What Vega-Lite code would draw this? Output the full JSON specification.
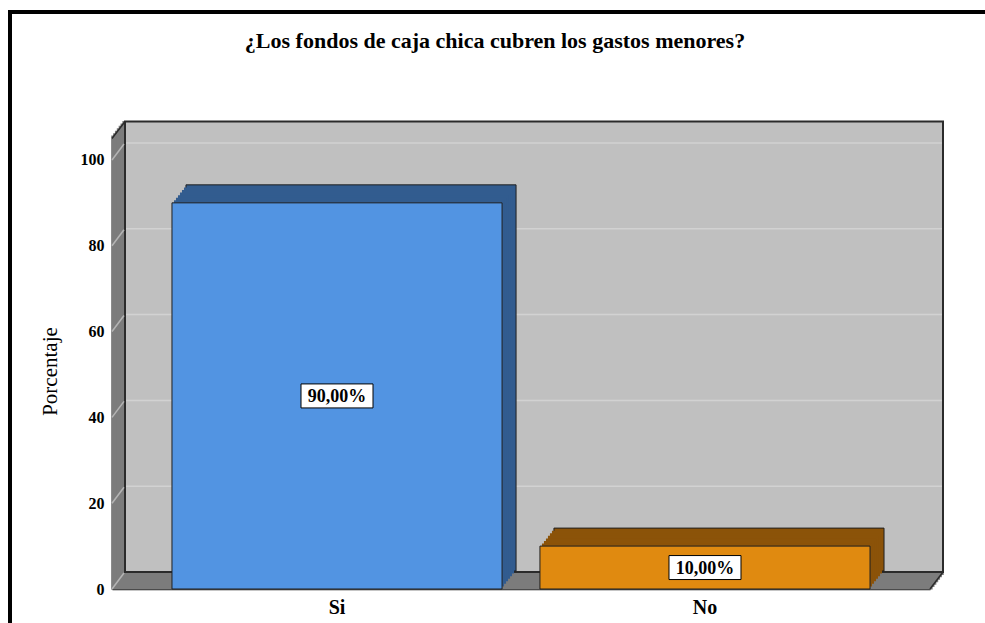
{
"$schema": "https://vega.github.io/schema/vega-lite/v6.json",
"width": 1000,
"height": 700,
"autosize": {"type": "none"},
"padding": {"left": 10, "top": 12, "right": 0, "bottom": 0},
"background": "white",
"title": {"text": "¿Los fondos de caja chica cubren los gastos menores?", "font": "Liberation Serif", "fontSize": 22, "fontWeight": "bold", "color": "black", "anchor": "middle", "frame": "group", "baseline": "alphabetic", "offset": 0, "dy": 58, "dx": -15},
"data": {"values": [{}]},
"datasets": {
  "main": [{"cat": "Si", "pct": 90, "label": "90,00%"}, {"cat": "No", "pct": 10, "label": "10,00%"}],
  "grid": [{"v": 0}, {"v": 20}, {"v": 40}, {"v": 60}, {"v": 80}, {"v": 100}]
},
"config": {
  "view": {"stroke": "black", "strokeWidth": 4, "fill": "white"},
  "axis": {"zindex": 1},
  "axisY": {"offset": -102, "domain": true, "domainColor": "#1a1a1a", "domainWidth": 1.5, "ticks": false, "grid": false, "labelFont": "Liberation Serif", "labelFontSize": 16, "labelFontWeight": "bold", "labelColor": "black", "labelPadding": 8, "titleFont": "Liberation Serif", "titleFontSize": 21, "titleFontWeight": "normal", "titleColor": "black", "titlePadding": 20, "titleY": 359},
  "axisX": {"offset": -123, "domain": true, "domainColor": "#1a1a1a", "domainWidth": 1.5, "ticks": false, "grid": false, "labelFont": "Liberation Serif", "labelFontSize": 20, "labelFontWeight": "bold", "labelColor": "black", "labelPadding": 8, "labelAngle": 0}
},
"resolve": {"scale": {"x": "independent"}},
"layer": [
  {"mark": {"type": "rect", "fill": "transparent", "stroke": "#7c7c7c", "strokeWidth": 3.4, "xOffset": 0.93, "x2Offset": 0.93, "yOffset": -1.21, "y2Offset": -1.21},
   "encoding": {"x": {"datum": 0, "type": "quantitative", "scale": {"domain": [0, 1], "range": [102, 920]}, "axis": null}, "x2": {"datum": 1}, "y": {"datum": 0, "type": "quantitative", "scale": {"domain": [0, 105], "range": [577, 126.5]}}, "y2": {"datum": 105}}},
  {"mark": {"type": "rect", "fill": "transparent", "stroke": "#7c7c7c", "strokeWidth": 3.4, "xOffset": 2.79, "x2Offset": 2.79, "yOffset": -3.64, "y2Offset": -3.64},
   "encoding": {"x": {"datum": 0, "type": "quantitative", "scale": {"domain": [0, 1], "range": [102, 920]}, "axis": null}, "x2": {"datum": 1}, "y": {"datum": 0, "type": "quantitative", "scale": {"domain": [0, 105], "range": [577, 126.5]}}, "y2": {"datum": 105}}},
  {"mark": {"type": "rect", "fill": "transparent", "stroke": "#7c7c7c", "strokeWidth": 3.4, "xOffset": 4.64, "x2Offset": 4.64, "yOffset": -6.07, "y2Offset": -6.07},
   "encoding": {"x": {"datum": 0, "type": "quantitative", "scale": {"domain": [0, 1], "range": [102, 920]}, "axis": null}, "x2": {"datum": 1}, "y": {"datum": 0, "type": "quantitative", "scale": {"domain": [0, 105], "range": [577, 126.5]}}, "y2": {"datum": 105}}},
  {"mark": {"type": "rect", "fill": "transparent", "stroke": "#7c7c7c", "strokeWidth": 3.4, "xOffset": 6.5, "x2Offset": 6.5, "yOffset": -8.5, "y2Offset": -8.5},
   "encoding": {"x": {"datum": 0, "type": "quantitative", "scale": {"domain": [0, 1], "range": [102, 920]}, "axis": null}, "x2": {"datum": 1}, "y": {"datum": 0, "type": "quantitative", "scale": {"domain": [0, 105], "range": [577, 126.5]}}, "y2": {"datum": 105}}},
  {"mark": {"type": "rect", "fill": "transparent", "stroke": "#7c7c7c", "strokeWidth": 3.4, "xOffset": 8.36, "x2Offset": 8.36, "yOffset": -10.93, "y2Offset": -10.93},
   "encoding": {"x": {"datum": 0, "type": "quantitative", "scale": {"domain": [0, 1], "range": [102, 920]}, "axis": null}, "x2": {"datum": 1}, "y": {"datum": 0, "type": "quantitative", "scale": {"domain": [0, 105], "range": [577, 126.5]}}, "y2": {"datum": 105}}},
  {"mark": {"type": "rect", "fill": "transparent", "stroke": "#7c7c7c", "strokeWidth": 3.4, "xOffset": 10.21, "x2Offset": 10.21, "yOffset": -13.36, "y2Offset": -13.36},
   "encoding": {"x": {"datum": 0, "type": "quantitative", "scale": {"domain": [0, 1], "range": [102, 920]}, "axis": null}, "x2": {"datum": 1}, "y": {"datum": 0, "type": "quantitative", "scale": {"domain": [0, 105], "range": [577, 126.5]}}, "y2": {"datum": 105}}},
  {"mark": {"type": "rect", "fill": "transparent", "stroke": "#7c7c7c", "strokeWidth": 3.4, "xOffset": 12.07, "x2Offset": 12.07, "yOffset": -15.79, "y2Offset": -15.79},
   "encoding": {"x": {"datum": 0, "type": "quantitative", "scale": {"domain": [0, 1], "range": [102, 920]}, "axis": null}, "x2": {"datum": 1}, "y": {"datum": 0, "type": "quantitative", "scale": {"domain": [0, 105], "range": [577, 126.5]}}, "y2": {"datum": 105}}},
  {"mark": {"type": "rect", "fill": "#c0c0c0", "stroke": "#2b2b2b", "strokeWidth": 2, "xOffset": 13, "x2Offset": 13, "yOffset": -17, "y2Offset": -17},
   "encoding": {"x": {"datum": 0, "type": "quantitative", "scale": {"domain": [0, 1], "range": [102, 920]}, "axis": null}, "x2": {"datum": 1}, "y": {"datum": 0, "type": "quantitative", "scale": {"domain": [0, 105], "range": [577, 126.5]}}, "y2": {"datum": 105}}},
  {"data": {"name": "grid"},
   "transform": [{"filter": "datum.v > 0"}],
   "mark": {"type": "rule", "stroke": "#d2d2d2", "strokeWidth": 1.5, "xOffset": 14, "x2Offset": 12, "yOffset": -17, "y2Offset": -17},
   "encoding": {"x": {"datum": 0, "type": "quantitative", "scale": {"domain": [0, 1], "range": [102, 920]}, "axis": null}, "x2": {"datum": 1}, "y": {"field": "v", "type": "quantitative", "scale": {"domain": [0, 105], "range": [577, 126.5]}}}},
  {"data": {"name": "grid"},
   "mark": {"type": "rule", "stroke": "#b4b4b4", "strokeWidth": 1.5, "x2Offset": 12, "y2Offset": -16},
   "encoding": {"x": {"datum": 0, "type": "quantitative", "scale": {"domain": [0, 1], "range": [102, 920]}, "axis": null}, "x2": {"datum": 0}, "y": {"field": "v", "type": "quantitative", "scale": {"domain": [0, 105], "range": [577, 126.5]}}, "y2": {"field": "v"}}},
  {"mark": {"type": "rule", "stroke": "#2b2b2b", "strokeWidth": 1.5, "x2Offset": 13, "y2Offset": -17},
   "encoding": {"x": {"datum": 0, "type": "quantitative", "scale": {"domain": [0, 1], "range": [102, 920]}, "axis": null}, "x2": {"datum": 0}, "y": {"datum": 105, "type": "quantitative", "scale": {"domain": [0, 105], "range": [577, 126.5]}}, "y2": {"datum": 105}}},
  {"mark": {"type": "rule", "stroke": "#2b2b2b", "strokeWidth": 1.5, "x2Offset": 13, "y2Offset": -17},
   "encoding": {"x": {"datum": 1, "type": "quantitative", "scale": {"domain": [0, 1], "range": [102, 920]}, "axis": null}, "x2": {"datum": 1}, "y": {"datum": 0, "type": "quantitative", "scale": {"domain": [0, 105], "range": [577, 126.5]}}, "y2": {"datum": 0}}},
  {"data": {"name": "main"},
   "mark": {"type": "bar", "stroke": "#1f1f1f", "strokeWidth": 1, "xOffset": 14, "yOffset": -18, "y2Offset": -18},
   "encoding": {"x": {"field": "cat", "type": "nominal", "sort": ["Si", "No"], "scale": {"type": "band", "domain": ["Si", "No"], "range": [102, 920], "paddingInner": 0.103, "paddingOuter": 0.163}, "axis": null},
     "y": {"field": "pct", "type": "quantitative", "scale": {"domain": [0, 105], "range": [577, 126.5]}},
     "fill": {"condition": {"test": "datum.cat === 'Si'", "value": "#325c8f"}, "value": "#8b5309"}}},
  {"data": {"name": "main"},
   "mark": {"type": "bar", "strokeWidth": 0, "xOffset": 12, "yOffset": -15.43, "y2Offset": -15.43},
   "encoding": {"x": {"field": "cat", "type": "nominal", "sort": ["Si", "No"], "scale": {"type": "band", "domain": ["Si", "No"], "range": [102, 920], "paddingInner": 0.103, "paddingOuter": 0.163}, "axis": null},
     "y": {"field": "pct", "type": "quantitative", "scale": {"domain": [0, 105], "range": [577, 126.5]}},
     "fill": {"condition": {"test": "datum.cat === 'Si'", "value": "#325c8f"}, "value": "#8b5309"}}},
  {"data": {"name": "main"},
   "mark": {"type": "bar", "strokeWidth": 0, "xOffset": 10, "yOffset": -12.86, "y2Offset": -12.86},
   "encoding": {"x": {"field": "cat", "type": "nominal", "sort": ["Si", "No"], "scale": {"type": "band", "domain": ["Si", "No"], "range": [102, 920], "paddingInner": 0.103, "paddingOuter": 0.163}, "axis": null},
     "y": {"field": "pct", "type": "quantitative", "scale": {"domain": [0, 105], "range": [577, 126.5]}},
     "fill": {"condition": {"test": "datum.cat === 'Si'", "value": "#325c8f"}, "value": "#8b5309"}}},
  {"data": {"name": "main"},
   "mark": {"type": "bar", "strokeWidth": 0, "xOffset": 8, "yOffset": -10.29, "y2Offset": -10.29},
   "encoding": {"x": {"field": "cat", "type": "nominal", "sort": ["Si", "No"], "scale": {"type": "band", "domain": ["Si", "No"], "range": [102, 920], "paddingInner": 0.103, "paddingOuter": 0.163}, "axis": null},
     "y": {"field": "pct", "type": "quantitative", "scale": {"domain": [0, 105], "range": [577, 126.5]}},
     "fill": {"condition": {"test": "datum.cat === 'Si'", "value": "#325c8f"}, "value": "#8b5309"}}},
  {"data": {"name": "main"},
   "mark": {"type": "bar", "strokeWidth": 0, "xOffset": 6, "yOffset": -7.71, "y2Offset": -7.71},
   "encoding": {"x": {"field": "cat", "type": "nominal", "sort": ["Si", "No"], "scale": {"type": "band", "domain": ["Si", "No"], "range": [102, 920], "paddingInner": 0.103, "paddingOuter": 0.163}, "axis": null},
     "y": {"field": "pct", "type": "quantitative", "scale": {"domain": [0, 105], "range": [577, 126.5]}},
     "fill": {"condition": {"test": "datum.cat === 'Si'", "value": "#325c8f"}, "value": "#8b5309"}}},
  {"data": {"name": "main"},
   "mark": {"type": "bar", "strokeWidth": 0, "xOffset": 4, "yOffset": -5.14, "y2Offset": -5.14},
   "encoding": {"x": {"field": "cat", "type": "nominal", "sort": ["Si", "No"], "scale": {"type": "band", "domain": ["Si", "No"], "range": [102, 920], "paddingInner": 0.103, "paddingOuter": 0.163}, "axis": null},
     "y": {"field": "pct", "type": "quantitative", "scale": {"domain": [0, 105], "range": [577, 126.5]}},
     "fill": {"condition": {"test": "datum.cat === 'Si'", "value": "#325c8f"}, "value": "#8b5309"}}},
  {"data": {"name": "main"},
   "mark": {"type": "bar", "strokeWidth": 0, "xOffset": 2, "yOffset": -2.57, "y2Offset": -2.57},
   "encoding": {"x": {"field": "cat", "type": "nominal", "sort": ["Si", "No"], "scale": {"type": "band", "domain": ["Si", "No"], "range": [102, 920], "paddingInner": 0.103, "paddingOuter": 0.163}, "axis": null},
     "y": {"field": "pct", "type": "quantitative", "scale": {"domain": [0, 105], "range": [577, 126.5]}},
     "fill": {"condition": {"test": "datum.cat === 'Si'", "value": "#325c8f"}, "value": "#8b5309"}}},
  {"data": {"name": "main"},
   "mark": {"type": "bar", "stroke": "#1f1f1f", "strokeWidth": 1},
   "encoding": {"x": {"field": "cat", "type": "nominal", "sort": ["Si", "No"], "scale": {"type": "band", "domain": ["Si", "No"], "range": [102, 920], "paddingInner": 0.103, "paddingOuter": 0.163}, "axis": {"title": null}},
     "y": {"field": "pct", "type": "quantitative", "scale": {"domain": [0, 105], "range": [577, 126.5]}, "axis": {"title": "Porcentaje", "values": [0, 20, 40, 60, 80, 100]}},
     "fill": {"condition": {"test": "datum.cat === 'Si'", "value": "#5294e2"}, "value": "#e08a10"}}},
  {"data": {"name": "main"},
   "transform": [{"calculate": "datum.pct / 2", "as": "mid"}],
   "mark": {"type": "point", "shape": "M-1,-0.3333L1,-0.3333L1,0.3333L-1,0.3333Z", "size": 5184, "filled": true, "fill": "white", "stroke": "black", "strokeWidth": 1, "opacity": 1},
   "encoding": {"x": {"field": "cat", "type": "nominal", "sort": ["Si", "No"], "scale": {"type": "band", "domain": ["Si", "No"], "range": [102, 920], "paddingInner": 0.103, "paddingOuter": 0.163}, "axis": null},
     "y": {"field": "mid", "type": "quantitative", "scale": {"domain": [0, 105], "range": [577, 126.5]}}}},
  {"data": {"name": "main"},
   "transform": [{"calculate": "datum.pct / 2", "as": "mid"}],
   "mark": {"type": "text", "font": "Liberation Serif", "fontSize": 18, "fontWeight": "bold", "fill": "black", "align": "center", "baseline": "middle", "dy": 1},
   "encoding": {"x": {"field": "cat", "type": "nominal", "sort": ["Si", "No"], "scale": {"type": "band", "domain": ["Si", "No"], "range": [102, 920], "paddingInner": 0.103, "paddingOuter": 0.163}, "axis": null},
     "y": {"field": "mid", "type": "quantitative", "scale": {"domain": [0, 105], "range": [577, 126.5]}},
     "text": {"field": "label"}}}
]
}
